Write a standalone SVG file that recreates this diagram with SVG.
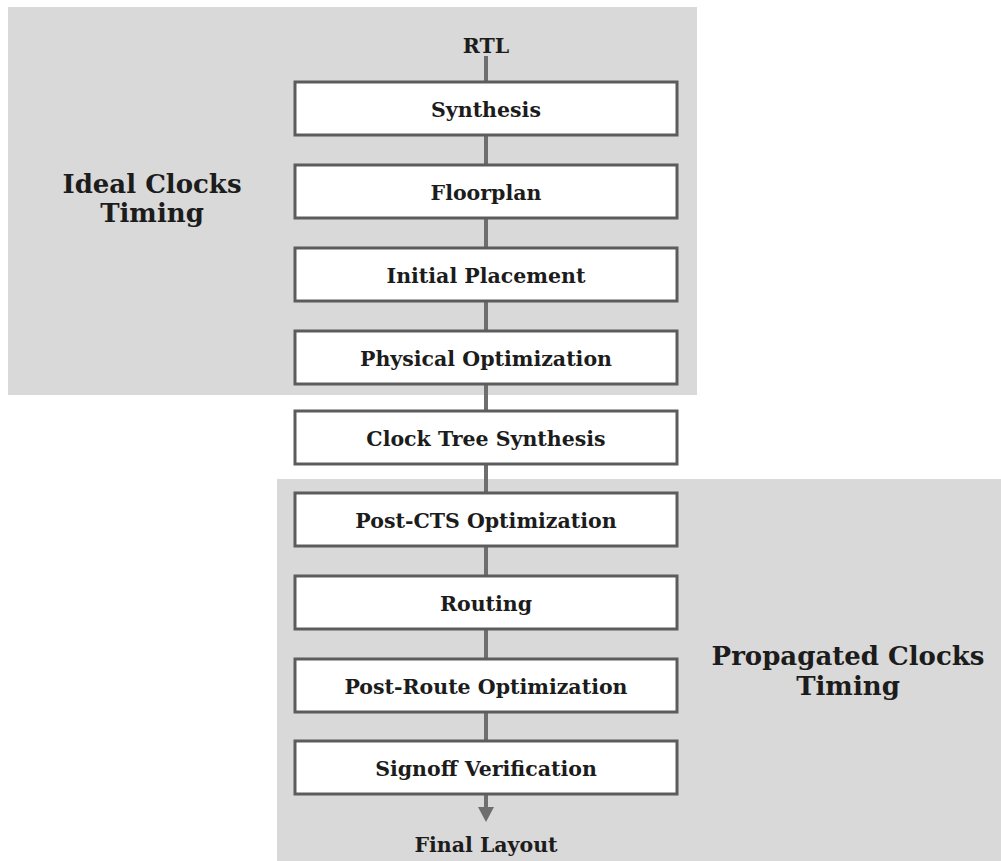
<svg xmlns="http://www.w3.org/2000/svg" width="1001" height="861" viewBox="0 0 1001 861">
  <style>
    .panel { fill: #d9d9d9; }
    .box { fill: #ffffff; stroke: #5c5c5c; stroke-width: 3; }
    .lbl { font-family: "DejaVu Serif", "Liberation Serif", serif; font-weight: bold; font-size: 20.5px; fill: #1c1c1c; text-anchor: middle; }
    .big { font-family: "DejaVu Serif", "Liberation Serif", serif; font-weight: bold; font-size: 26px; fill: #1c1c1c; text-anchor: middle; }
    .wire { stroke: #6e6e6e; stroke-width: 4; fill: none; }
  </style>

  <rect width="1001" height="861" fill="#ffffff"/>

  <!-- timing regions -->
  <g id="region-ideal">
    <rect class="panel" x="8" y="7" width="689" height="388"/>
    <text class="big" x="152" y="193">Ideal Clocks</text>
    <text class="big" x="152" y="222">Timing</text>
  </g>
  <g id="region-propagated">
    <rect class="panel" x="277" y="479" width="724" height="382"/>
    <text class="big" x="848" y="665">Propagated Clocks</text>
    <text class="big" x="848" y="695">Timing</text>
  </g>

  <!-- flow connectors -->
  <g id="connectors">
    <line class="wire" x1="486" y1="56" x2="486" y2="82"/>
    <line class="wire" x1="486" y1="135" x2="486" y2="165"/>
    <line class="wire" x1="486" y1="218" x2="486" y2="248"/>
    <line class="wire" x1="486" y1="301" x2="486" y2="331"/>
    <line class="wire" x1="486" y1="384" x2="486" y2="411"/>
    <line class="wire" x1="486" y1="464" x2="486" y2="493"/>
    <line class="wire" x1="486" y1="546" x2="486" y2="576"/>
    <line class="wire" x1="486" y1="629" x2="486" y2="659"/>
    <line class="wire" x1="486" y1="712" x2="486" y2="741"/>
    <line class="wire" x1="486" y1="794" x2="486" y2="808"/>
    <path d="M478,807 L494,807 L486,822 Z" fill="#6e6e6e"/>
  </g>

  <g id="rtl"><text class="lbl" x="486" y="53">RTL</text></g>

  <g id="synthesis">
    <rect class="box" x="295" y="82" width="382" height="53"/>
    <text class="lbl" x="486" y="117">Synthesis</text>
  </g>
  <g id="floorplan">
    <rect class="box" x="295" y="165" width="382" height="53"/>
    <text class="lbl" x="486" y="200">Floorplan</text>
  </g>
  <g id="initial-placement">
    <rect class="box" x="295" y="248" width="382" height="53"/>
    <text class="lbl" x="486" y="283">Initial Placement</text>
  </g>
  <g id="physical-optimization">
    <rect class="box" x="295" y="331" width="382" height="53"/>
    <text class="lbl" x="486" y="366">Physical Optimization</text>
  </g>
  <g id="clock-tree-synthesis">
    <rect class="box" x="295" y="411" width="382" height="53"/>
    <text class="lbl" x="486" y="446">Clock Tree Synthesis</text>
  </g>
  <g id="post-cts-optimization">
    <rect class="box" x="295" y="493" width="382" height="53"/>
    <text class="lbl" x="486" y="528">Post-CTS Optimization</text>
  </g>
  <g id="routing">
    <rect class="box" x="295" y="576" width="382" height="53"/>
    <text class="lbl" x="486" y="611">Routing</text>
  </g>
  <g id="post-route-optimization">
    <rect class="box" x="295" y="659" width="382" height="53"/>
    <text class="lbl" x="486" y="694">Post-Route Optimization</text>
  </g>
  <g id="signoff-verification">
    <rect class="box" x="295" y="741" width="382" height="53"/>
    <text class="lbl" x="486" y="776">Signoff Verification</text>
  </g>
  <g id="final-layout"><text class="lbl" x="486" y="852">Final Layout</text></g>
</svg>
